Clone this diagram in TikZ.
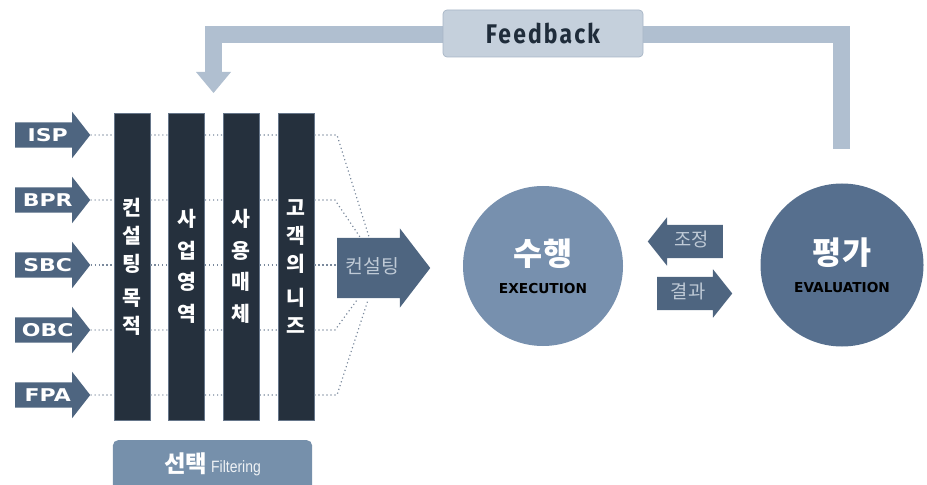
\documentclass[tikz,border=0pt]{standalone}
\usepackage{fontspec}
\newfontfamily\krfont{Noto Sans CJK KR}
\newfontfamily\pixfont{DejaVu Sans}
\newfontfamily\pixwide[FakeStretch=1.25]{DejaVu Sans}
\newfontfamily\fbfont[FakeStretch=0.85,LetterSpace=8]{Fira Sans}
\newfontfamily\ltfont[FakeStretch=0.85]{Liberation Sans}
\usetikzlibrary{shapes,arrows.meta,positioning}

\definecolor{slate}{HTML}{4E6580}
\definecolor{navy}{HTML}{25303D}
\definecolor{navyedge}{HTML}{66768A}
\definecolor{dotc}{HTML}{7A899C}
\definecolor{execc}{HTML}{7790AE}
\definecolor{evalc}{HTML}{566F8E}
\definecolor{paletxt}{HTML}{BFCAD6}
\definecolor{fbline}{HTML}{B0BFD0}
\definecolor{fbfill}{HTML}{C5D0DC}
\definecolor{fbedge}{HTML}{A8B6C6}
\definecolor{fbtext}{HTML}{1F2C3A}
\definecolor{selc}{HTML}{7690AB}

\begin{document}
\begin{tikzpicture}[x=0.03cm, y=-0.03cm, node distance=0.54cm]
    \tikzset{
        inarrow/.style  =   { single arrow
                            , fill=slate
                            , text=white
                            , font=\pixwide\bfseries\fontsize{15}{15}\selectfont
                            , single arrow head extend=0.315cm
                            , single arrow tip angle=104
                            , minimum height=2.25cm
                            , text height=0.39cm
                            , text depth=0cm
                            , inner ysep=0.18cm
                            , inner xsep=0.1cm
        }
        , filter/.style =   { rectangle
                            , fill=navy
                            , draw=navyedge
                            , line width=0.6pt
                            , minimum width=1.08cm
                            , minimum height=9.21cm
                            , text=white
                            , align=center
                            , font=\krfont\bfseries\fontsize{17.5}{24}\selectfont
        }
        , dots/.style   =   { draw=dotc
                            , line width=1pt
                            , dash pattern=on 1pt off 2.4pt
        }
        , bigarrow/.style = { single arrow
                            , fill=slate
                            , text=paletxt
                            , font=\krfont\fontsize{16.5}{16.5}\selectfont
                            , single arrow head extend=0.285cm
                            , single arrow tip angle=105
                            , minimum height=2.79cm
                            , text height=0.42cm
                            , text depth=0.1cm
                            , inner ysep=0.64cm
                            , anchor=tail
        }
        , midarrow/.style = { single arrow
                            , fill=slate
                            , text=paletxt
                            , font=\krfont\fontsize{16}{16}\selectfont
                            , single arrow head extend=0.225cm
                            , single arrow tip angle=103
                            , minimum height=2.25cm
                            , text height=0.4cm
                            , text depth=0.1cm
                            , inner ysep=0.245cm
                            , anchor=tail
        }
        , phase/.style  =   { circle
                            , inner sep=0pt
                            , text=white
                            , align=center
                            , font=\fontsize{12}{24}\selectfont
        }
        , feedback/.style = { line width=0.51cm
                            , draw=fbline
                            , line join=miter
                            , -{Triangle[width=1.05cm, length=0.63cm, line width=0pt]}
        }
    }
    \useasboundingbox (0,0) rectangle (927,485);

    % feedback loop
    \coordinate (fbs) at (841.5,149);
    \coordinate (fbt) at (543,35);
    \coordinate (fbe) at (213.5,93);
    \draw[feedback] (fbs) |- (fbt) -| (fbe);
    \node(fb)[rectangle, rounded corners=0.12cm, fill=fbfill, draw=fbedge, line width=0.6pt,
              minimum width=6cm, minimum height=1.41cm, text=fbtext,
              font=\fbfont\bfseries\fontsize{23}{23}\selectfont] at (543,33.5) {Feedback};

    % inputs
    \node(isp)[inarrow, anchor=tail] at (15,135) {ISP};
    \node(bpr)[inarrow, below=1.95cm of isp.tail, anchor=tail] {BPR};
    \node(sbc)[inarrow, below=1.95cm of bpr.tail, anchor=tail] {SBC};
    \node(obc)[inarrow, below=1.95cm of sbc.tail, anchor=tail] {OBC};
    \node(fpa)[inarrow, below=1.95cm of obc.tail, anchor=tail] {FPA};

    % filters
    \node(b1)[filter] at (132,266.5) {컨\\설\\팅\\[5pt]목\\적};
    \node(b2)[filter, right=of b1, font=\krfont\bfseries\fontsize{17.5}{27}\selectfont] {사\\업\\영\\역};
    \node(b3)[filter, right=of b2, font=\krfont\bfseries\fontsize{17.5}{27}\selectfont] {사\\용\\매\\체};
    \node(b4)[filter, right=of b3] {고\\객\\의\\[5pt]니\\즈};

    % dotted paths
    \coordinate (kt) at (337,268);
    \coordinate (k1) at (370,240);
    \coordinate (k2) at (362,240);
    \coordinate (k4) at (357,300);
    \coordinate (k5) at (368,300);
    \draw[dots] (isp.tip) -- (isp.tip -| b1.west) (isp.tip -| b1.east) -- (isp.tip -| b2.west)
                (isp.tip -| b2.east) -- (isp.tip -| b3.west) (isp.tip -| b3.east) -- (isp.tip -| b4.west)
                (isp.tip -| b4.east) -- (isp.tip -| kt) -- (k1);
    \draw[dots] (bpr.tip) -- (bpr.tip -| b1.west) (bpr.tip -| b1.east) -- (bpr.tip -| b2.west)
                (bpr.tip -| b2.east) -- (bpr.tip -| b3.west) (bpr.tip -| b3.east) -- (bpr.tip -| b4.west)
                (bpr.tip -| b4.east) -- ([xshift=-0.06cm]bpr.tip -| kt) -- (k2);
    \draw[dots] (sbc.tip) -- (sbc.tip -| b1.west) (sbc.tip -| b1.east) -- (sbc.tip -| b2.west)
                (sbc.tip -| b2.east) -- (sbc.tip -| b3.west) (sbc.tip -| b3.east) -- (sbc.tip -| b4.west)
                (sbc.tip -| b4.east) -- (sbc.tip -| kt);
    \draw[dots] (obc.tip) -- (obc.tip -| b1.west) (obc.tip -| b1.east) -- (obc.tip -| b2.west)
                (obc.tip -| b2.east) -- (obc.tip -| b3.west) (obc.tip -| b3.east) -- (obc.tip -| b4.west)
                (obc.tip -| b4.east) -- ([xshift=-0.06cm]obc.tip -| kt) -- (k4);
    \draw[dots] (fpa.tip) -- (fpa.tip -| b1.west) (fpa.tip -| b1.east) -- (fpa.tip -| b2.west)
                (fpa.tip -| b2.east) -- (fpa.tip -| b3.west) (fpa.tip -| b3.east) -- (fpa.tip -| b4.west)
                (fpa.tip -| b4.east) -- (fpa.tip -| kt) -- (k5);

    % consulting
    \node(kon)[bigarrow] at (kt) {컨설팅};

    % execution / evaluation
    \node(exe)[phase, fill=execc, minimum size=4.8cm] at (543,266)
        {\textcolor{white}{\krfont\bfseries\fontsize{27}{30}\selectfont 수행}\\{\pixfont\bfseries\fontsize{11.7}{14}\selectfont\color{black}EXECUTION}};
    \node(eval)[phase, fill=evalc, minimum size=4.89cm] at (842,265)
        {\textcolor{white}{\krfont\bfseries\fontsize{27}{30}\selectfont 평가}\\{\pixfont\bfseries\fontsize{11.7}{14}\selectfont\color{black}EVALUATION}};
    \node(adj)[midarrow, shape border rotate=180] at (723,241.5) {조정};
    \node(res)[midarrow] at (657,293.5) {결과};

    % selection
    \node(sel)[rectangle, rounded corners=0.15cm, fill=selc, minimum width=5.97cm,
               minimum height=1.8cm, anchor=north] at (212.5,440) {};
    \node(seltxt)[text=white, inner sep=0pt, anchor=base] at (212.5,472)
        {{\krfont\bfseries\fontsize{20}{20}\selectfont 선택} {\ltfont\fontsize{14}{14}\selectfont\color{white!88!selc}Filtering}};
\end{tikzpicture}
\end{document}
